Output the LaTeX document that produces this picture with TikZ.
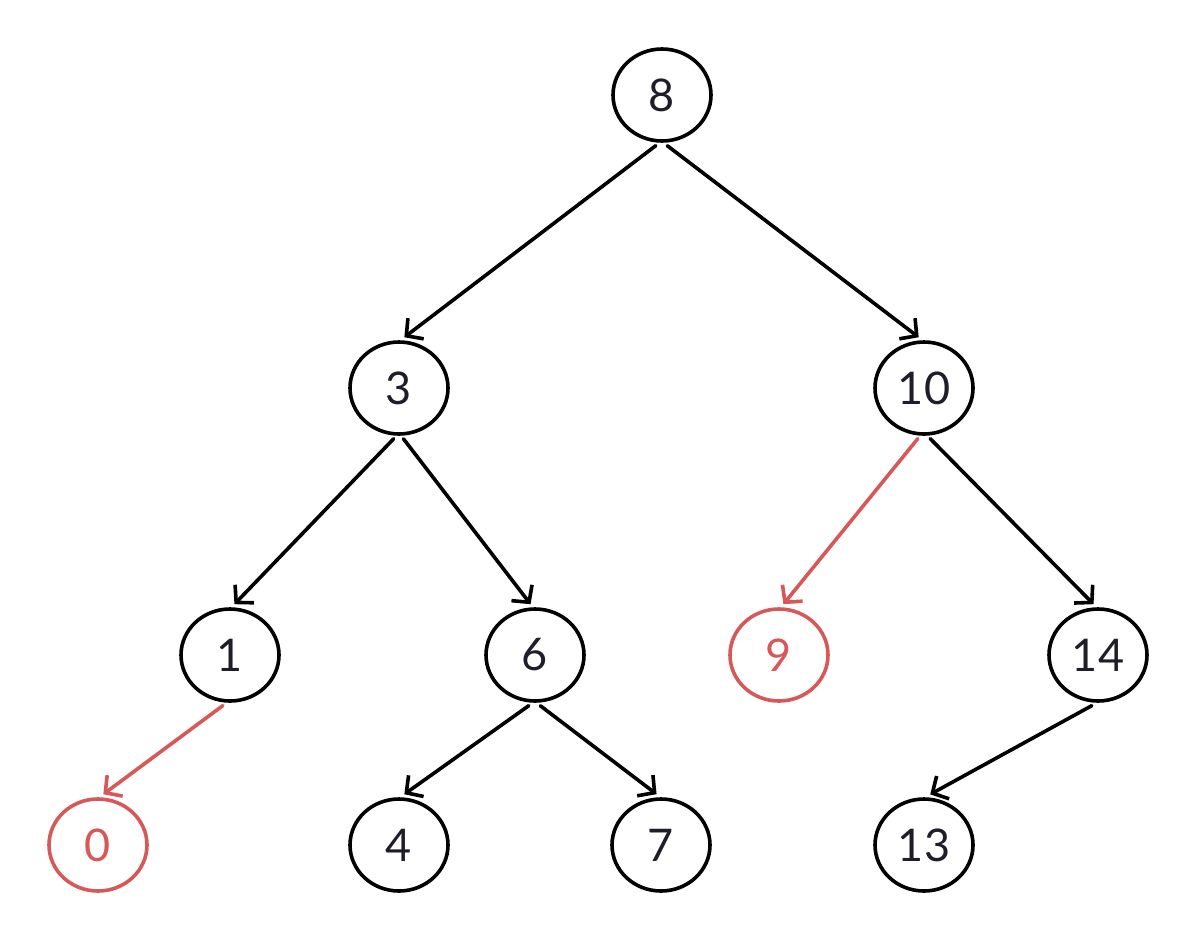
\documentclass[tikz,border=0pt]{standalone}
\usepackage{fontspec}
\setmainfont{Lato}
\usetikzlibrary{arrows.meta,shapes.geometric}
\definecolor{txt}{RGB}{30,30,40}
\definecolor{hl}{RGB}{215,88,88}
\tikzset{
  tn/.style={draw=black, line width=3.6pt, ellipse, minimum width=98pt, minimum height=92pt, inner sep=0pt, outer sep=5pt, text=txt, font=\fontsize{45}{45}\selectfont},
  tnred/.style={tn, draw=hl, text=hl},
  edge/.style={draw=black, line width=3.6pt, line cap=round, line join=round, -{Straight Barb[length=12pt,width=26pt,line width=3.6pt]}},
  edgered/.style={edge, draw=hl},
}
\begin{document}
\begin{tikzpicture}[x=1pt,y=-1pt]
\useasboundingbox (0,0) rectangle (1198,940);
\node[tn] (n8) at (662,95) {8};
\node[tn] (n3) at (399,388) {3};
\node[tn] (n10) at (924,388) {10};
\node[tn] (n1) at (230,655) {1};
\node[tn] (n6) at (535,655) {6};
\node[tnred] (n9) at (779,655) {9};
\node[tn] (n14) at (1098,655) {14};
\node[tnred] (n0) at (98,845) {0};
\node[tn] (n4) at (399,845) {4};
\node[tn] (n7) at (661,845) {7};
\node[tn] (n13) at (924,845) {13};
\draw[edge] (n8.263.4) -- (n3.84.5);
\draw[edge] (n8.276.6) -- (n10.96.7);
\draw[edge] (n3.264.5) -- (n1.85.7);
\draw[edge] (n3.275.5) -- (n6.95.5);
\draw[edgered] (n10.263.5) -- (n9.85.6);
\draw[edge] (n10.277.5) -- (n14.95.5);
\draw[edgered] (n1.262.3) -- (n0.84.5);
\draw[edge] (n6.263.4) -- (n4.84.3);
\draw[edge] (n6.276.6) -- (n7.95.7);
\draw[edge] (n14.263.4) -- (n13.83);
\end{tikzpicture}
\end{document}
